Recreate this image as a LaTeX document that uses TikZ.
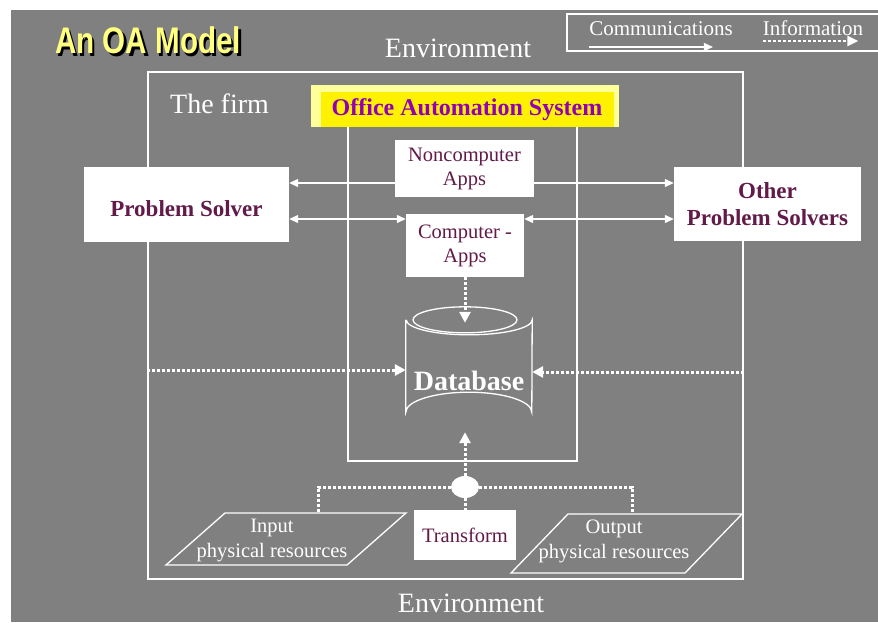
\documentclass[tikz,border=0pt]{standalone}
\usepackage{graphicx}
\usepackage{fontspec}
\setmainfont{Liberation Serif}
\newfontfamily\headfont{Liberation Sans}
\usetikzlibrary{arrows.meta,shapes.geometric}

\definecolor{slide}{RGB}{128,128,128}
\definecolor{plum}{RGB}{98,26,72}
\definecolor{oaspurple}{RGB}{145,0,185}
\definecolor{paleyellow}{RGB}{255,255,153}
\definecolor{titleyellow}{RGB}{255,255,128}

\newcommand{\shadowed}[1]{%
  \makebox[0pt][l]{\hspace{2.5pt}\raisebox{-2.5pt}{\textcolor{black}{#1}}}%
  \textcolor{titleyellow}{#1}}

\tikzset{
  wire/.style={draw=white, line width=1.3pt},
  comm/.style={wire, >={Triangle[length=9pt,width=8pt]}},
  dots/.style={draw=white, line width=3pt, dash pattern=on 3pt off 2pt},
  info/.style={dots, -{Triangle[length=11pt,width=11pt]}},
  whitebox/.style={fill=white, text=plum, inner sep=0pt, align=center,
    font=\fontsize{20.5}{24}\selectfont},
  solver/.style={whitebox, font=\bfseries\fontsize{23}{27}\selectfont},
  plain/.style={text=white, inner sep=0pt, align=center,
    font=\fontsize{20.5}{25}\selectfont},
  big/.style={plain, font=\fontsize{28}{32}\selectfont},
}

\begin{document}
\begin{tikzpicture}[x=1pt, y=-1pt]
    % Page and slide
    \fill[white] (0,0) rectangle (878,622);
    \fill[slide] (11,10) rectangle (878,622);
    \useasboundingbox (0,0) rectangle (878,622);
    \clip (0,0) rectangle (878,622);

    % Title with drop shadow
    \node[inner sep=0pt, font=\headfont\bfseries\fontsize{37}{40}\selectfont]
        (title) at (148,42) {\shadowed{\scalebox{0.8}[1]{An OA Model}}};

    % Legend
    \draw[wire] (567,14) rectangle (890,51);
    \node[plain, font=\fontsize{21}{25}\selectfont, anchor=base] (comm) at (661,35) {Communications};
    \node[plain, font=\fontsize{21}{25}\selectfont, anchor=base] (info) at (813,35) {Information};
    \draw[comm, ->] ([yshift=-12]comm.base west) -- ([yshift=-12, xshift=-20]comm.base east);
    \draw[dots, line width=2.2pt, -{Triangle[length=11pt,width=10pt]}]
        ([yshift=-6]info.base west) -- ([yshift=-6, xshift=-5]info.base east);

    % Environment and the firm
    \node[big, anchor=base] (envtop) at (458,57) {Environment};
    \node[big, anchor=base] (envbottom) at (471,612) {Environment};
    \node[draw=white, line width=1.3pt, minimum width=595, minimum height=507, inner sep=0pt]
        (firm) at (445.5,325.5) {};
    \node[big, anchor=base west] (firmlabel) at (170,113) {The firm};

    % Office automation system
    \draw[wire] (348,126) -- (348,461) -- (577,461) -- (577,126);
    \fill[paleyellow] (311,85) rectangle (619,127);
    \node[fill=yellow, text=oaspurple, inner sep=0pt, minimum width=293, minimum height=35,
        font=\bfseries\fontsize{24}{28}\selectfont] (oas) at (467,109.5) {Office Automation System};

    % Problem solvers and applications
    \node[solver, minimum width=205, minimum height=75, text height=23pt, text depth=0pt]
        (ps) at (186.5,204.5) {Problem Solver};
    \node[solver, minimum width=187, minimum height=74] (ops) at (767.5,204) {Other\\Problem Solvers};
    \node[whitebox, minimum width=139, minimum height=57] (nca) at (464.5,168.5) {Noncomputer\\Apps};
    \node[whitebox, minimum width=118, minimum height=63] (ca) at (465,245.5) {Computer -\\Apps};

    \coordinate (up) at ([yshift=-14.5]nca.center);
    \coordinate (low) at ([yshift=26.5]ca.center);
    \draw[comm, ->] (up -| nca.west) -- (up -| ps.east);
    \draw[comm, ->] (up -| nca.east) -- (up -| ops.west);
    \draw[comm, <->] (low -| ps.east) -- (low -| ca.west);
    \draw[comm, <->] (low -| ca.east) -- (low -| ops.west);

    % Database cylinder
    \node[plain, font=\bfseries\fontsize{28}{32}\selectfont, text height=28pt, text depth=0pt,
        minimum width=126, minimum height=112] (db) at (469,376) {Database};
    \draw[wire] (db.north west) -- ([yshift=20]db.south west)
        arc[start angle=180, end angle=360, x radius=63, y radius=20]
        -- (db.north east) arc[start angle=0, end angle=180, x radius=63, y radius=15];
    \draw[wire] ([xshift=-4]db.north) ellipse[x radius=52, y radius=13];

    \coordinate (dbleft) at ([yshift=6]db.west);
    \coordinate (dbright) at ([yshift=4]db.east);
    \draw[info] (ca.south) -- ([yshift=-3]ca.south |- db.north);
    \draw[info] (firm.west |- dbleft) -- (dbleft);
    \draw[info] (firm.east |- dbright) -- (dbright);

    % Physical system
    \node[plain] (inp) at (272,540) {Input\\physical resources};
    \node[plain] (outp) at (614,541) {Output\\physical resources};
    \draw[wire] (225,513) -- (406,513) -- (347,565) -- (166,565) -- cycle;
    \draw[wire] (568,514) -- (742,514) -- (685,573) -- (511,573) -- cycle;
    \coordinate (inptop) at (318,513);
    \coordinate (outtop) at (632,514);
    \node[whitebox, minimum width=102, minimum height=50] (tf) at (465,535) {Transform};
    \node[ellipse, fill=white, minimum width=28, minimum height=22, inner sep=0pt] (jn) at (465,487) {};

    \draw[info] (jn.north) -- (jn.north |- db.south);
    \draw[dots] (jn.west) -| (inptop);
    \draw[dots] (jn.east) -| (outtop);
    \draw[dots] (jn.south) -- (tf.north);
\end{tikzpicture}
\end{document}
